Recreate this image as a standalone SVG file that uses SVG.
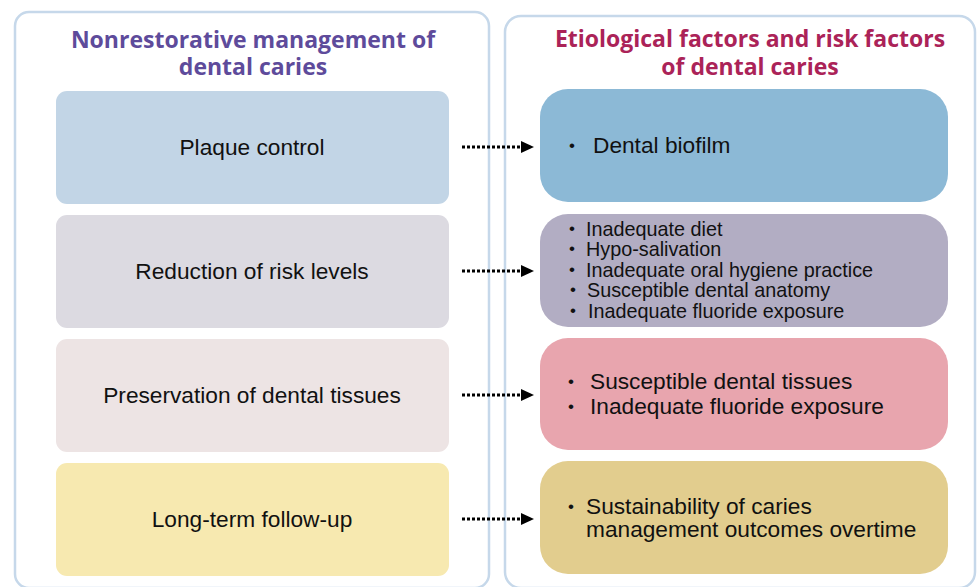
<svg xmlns="http://www.w3.org/2000/svg" width="977" height="587" viewBox="0 0 977 587">
<style>
.panel{fill:#fff;stroke:#c6d8ea;stroke-width:2.5}
.hdr{font-family:"Open Sans","Liberation Sans",sans-serif;font-weight:700;font-size:23px;text-anchor:middle}
.lt{font-family:"Liberation Sans",Arial,sans-serif;font-size:22.7px;fill:#111;text-anchor:middle}
.rt{font-family:"Liberation Sans",Arial,sans-serif;font-size:22.7px;fill:#111}
.rs{font-family:"Liberation Sans",Arial,sans-serif;font-size:19.8px;fill:#111}
.bl{font-family:"Liberation Sans",Arial,sans-serif;font-size:17px;fill:#111}
.conn{stroke:#000;stroke-width:3;stroke-dasharray:3 2;fill:none}
</style>
<defs>
<marker id="ah" viewBox="0 0 10 10" refX="0" refY="5" markerWidth="13" markerHeight="12" markerUnits="userSpaceOnUse" orient="auto" preserveAspectRatio="none">
<path d="M0,0 L10,5 L0,10 Z" fill="#000"/>
</marker>
</defs>
<rect width="977" height="587" fill="#fff"/>
<g id="panel-left">
<rect class="panel" x="15" y="12" width="474" height="576" rx="14"/>
<text class="hdr" fill="#5e4b9b"><tspan x="253" y="48">Nonrestorative management of</tspan><tspan x="253" y="75">dental caries</tspan></text>
</g>
<g id="panel-right">
<rect class="panel" x="505" y="16" width="470" height="572" rx="16"/>
<text class="hdr" fill="#ab2358"><tspan x="750" y="47">Etiological factors and risk factors</tspan><tspan x="750" y="75">of dental caries</tspan></text>
</g>
<g id="plaque-control">
<rect x="56" y="91" width="393" height="113" rx="11" fill="#c2d5e6"/>
<text class="lt" x="252" y="155">Plaque control</text>
</g>
<g id="reduction-risk">
<rect x="56" y="215" width="393" height="113" rx="11" fill="#dcdae1"/>
<text class="lt" x="252" y="279">Reduction of risk levels</text>
</g>
<g id="preservation">
<rect x="56" y="339" width="393" height="113" rx="11" fill="#ede4e4"/>
<text class="lt" x="252" y="403">Preservation of dental tissues</text>
</g>
<g id="follow-up">
<rect x="56" y="463" width="393" height="113" rx="11" fill="#f7e9b0"/>
<text class="lt" x="252" y="527">Long-term follow-up</text>
</g>
<g id="biofilm">
<rect x="540" y="89" width="408" height="113" rx="28" fill="#8cb9d6"/>
<text class="bl" x="569" y="151">•</text>
<text class="rt" x="593" y="153">Dental biofilm</text>
</g>
<g id="risk-factors">
<rect x="540" y="214" width="408" height="113" rx="28" fill="#b2adc3"/>
<text class="bl"><tspan x="569" y="234">•</tspan><tspan x="569" y="254">•</tspan><tspan x="569" y="275">•</tspan><tspan x="570" y="295">•</tspan><tspan x="570" y="316">•</tspan></text>
<text class="rs"><tspan x="586" y="236">Inadequate diet</tspan><tspan x="586" y="256">Hypo-salivation</tspan><tspan x="586" y="277">Inadequate oral hygiene practice</tspan><tspan x="587" y="297">Susceptible dental anatomy</tspan><tspan x="588" y="318">Inadequate fluoride exposure</tspan></text>
</g>
<g id="tissues">
<rect x="540" y="338" width="408" height="112" rx="28" fill="#e8a5ae"/>
<text class="bl"><tspan x="568" y="387">•</tspan><tspan x="568" y="412">•</tspan></text>
<text class="rt"><tspan x="590" y="389">Susceptible dental tissues</tspan><tspan x="590" y="414">Inadequate fluoride exposure</tspan></text>
</g>
<g id="sustainability">
<rect x="540" y="461" width="408" height="113" rx="28" fill="#e2cd8e"/>
<text class="bl" x="568" y="512">•</text>
<text class="rt"><tspan x="586" y="514">Sustainability of caries</tspan><tspan x="586" y="537">management outcomes overtime</tspan></text>
</g>
<g id="connectors">
<line class="conn" x1="462" y1="147" x2="521" y2="147" marker-end="url(#ah)"/>
<line class="conn" x1="462" y1="271" x2="521" y2="271" marker-end="url(#ah)"/>
<line class="conn" x1="462" y1="395" x2="521" y2="395" marker-end="url(#ah)"/>
<line class="conn" x1="462" y1="519" x2="521" y2="519" marker-end="url(#ah)"/>
</g>
</svg>
